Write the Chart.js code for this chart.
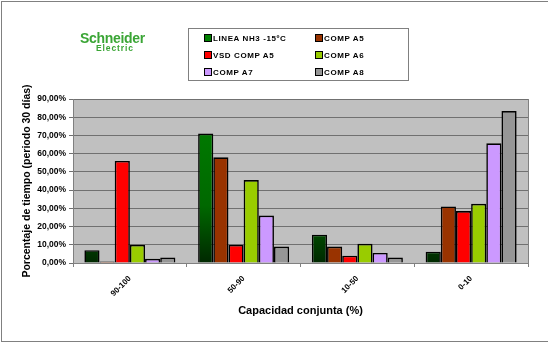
<!DOCTYPE html>
<html>
<head>
<meta charset="utf-8">
<script src="https://cdn.jsdelivr.net/npm/chart.js@4/dist/chart.umd.min.js"></script>
<style>
  body { margin: 0; background: #fff; }
  #wrap { position: relative; width: 548px; height: 344px; overflow: hidden; font-family: Arial, "Liberation Sans", sans-serif; }
  #frame { position: absolute; left: 1px; top: 1px; width: 600px; height: 339px; border: 1px solid #808080; border-right: none; pointer-events: none; }
  #logo { position: absolute; left: 80px; top: 30px; color: #3aa535; }
  #logo .big { font-weight: bold; font-size: 14px; letter-spacing: -0.3px; }
  #logo .small { font-weight: bold; font-size: 8.5px; margin-left: 16px; margin-top: -3px; letter-spacing: 0.9px; }
  #legend { position: absolute; left: 188px; top: 28px; width: 221px; height: 53px; border: 1px solid #808080; box-sizing: border-box; }
  .item { position: absolute; font-size: 8px; font-weight: bold; letter-spacing: 0.6px; line-height: 10px; white-space: nowrap; }
  .sw { display: inline-block; width: 6px; height: 6px; border: 1px solid #000; vertical-align: -1px; margin-right: 1px; }
</style>
</head>
<body>
<div id="wrap">
  <canvas id="chart" width="548" height="344"></canvas>
  <div id="logo"><div class="big">Schneider</div><div class="small">Electric</div></div>
  <div id="legend"></div>
  <div id="frame"></div>
</div>
<script>
const categories = ['90-100', '50-90', '10-50', '0-10'];
const seriesNames = ['LINEA NH3 -15ºC', 'COMP A5', 'VSD COMP A5', 'COMP A6', 'COMP A7', 'COMP A8'];
const seriesColors = ['#008000', '#993300', '#FF0000', '#99CC00', '#CC99FF', '#969696'];

const lineaNH3 = [7.0, 71.0, 15.5, 6.2];
const compA5 = [0.8, 58.0, 9.0, 31.0];
const vsdCompA5 = [56.0, 10.0, 4.0, 28.5];
const compA6 = [10.0, 45.5, 10.5, 32.5];
const compA7 = [2.3, 26.0, 5.5, 65.7];
const compA8 = [3.0, 9.0, 3.0, 83.4];
const seriesValues = [lineaNH3, compA5, vsdCompA5, compA6, compA7, compA8];

// legend in two columns, like the original
const legendEl = document.getElementById('legend');
seriesNames.forEach((name, i) => {
  const col = i % 2, row = Math.floor(i / 2);
  const d = document.createElement('div');
  d.className = 'item';
  d.style.left = (col === 0 ? 15 : 126) + 'px';
  d.style.top = (5 + row * 17) + 'px';
  d.innerHTML = '<span class="sw" style="background:' + seriesColors[i] + '"></span>' + name;
  legendEl.appendChild(d);
});

function greenGradient(ctx) {
  const area = ctx.chart.chartArea;
  if (!area) return seriesColors[0];
  const g = ctx.chart.ctx.createLinearGradient(0, area.bottom, 0, area.top);
  g.addColorStop(0, '#002800');
  g.addColorStop(0.35, '#006800');
  g.addColorStop(1, '#008000');
  return g;
}

const plotBg = {
  id: 'plotBg',
  beforeDraw(chart) {
    const { ctx, chartArea: a } = chart;
    ctx.save();
    ctx.fillStyle = '#C0C0C0';
    ctx.fillRect(a.left, a.top, a.right - a.left, a.bottom - a.top);
    ctx.strokeStyle = '#808080';
    ctx.lineWidth = 1;
    ctx.strokeRect(a.left + 0.5, a.top + 0.5, a.right - a.left, a.bottom - a.top);
    ctx.restore();
  }
};

const datasets = seriesNames.map((name, i) => ({
  label: name,
  data: seriesValues[i],
  backgroundColor: i === 0 ? greenGradient : seriesColors[i],
  borderColor: '#000',
  borderWidth: 1.6,
  borderSkipped: 'bottom',
  categoryPercentage: 0.8,
  barPercentage: 1.0,
}));

new Chart(document.getElementById('chart'), {
  type: 'bar',
  data: { labels: categories, datasets },
  plugins: [plotBg],
  options: {
    responsive: false,
    animation: false,
    layout: { padding: { top: 99, right: 20, bottom: 22, left: 17 } },
    plugins: { legend: { display: false }, tooltip: { enabled: false } },
    scales: {
      x: {
        afterFit(s) { s.height = 59; },
        grid: { offset: true, drawOnChartArea: false, color: '#808080', tickLength: 4 },
        border: { color: '#808080' },
        ticks: {
          minRotation: 45, maxRotation: 45, padding: 7,
          color: '#000', font: { family: 'Arial', size: 8, weight: 'bold' }
        },
        title: {
          display: true, text: 'Capacidad conjunta (%)', color: '#000',
          font: { family: 'Arial', size: 11, weight: 'bold' }, padding: { top: 2, bottom: 4 }
        }
      },
      y: {
        min: 0, max: 90,
        afterFit(s) { s.width = 56; },
        grid: { color: '#707070', tickLength: 4, drawTicks: true },
        border: { color: '#808080' },
        ticks: {
          stepSize: 10, padding: 3, color: '#000',
          font: { family: 'Arial', size: 8.5, weight: 'bold' },
          callback: v => v.toFixed(2).replace('.', ',') + '%'
        },
        title: {
          display: true, text: 'Porcentaje de tiempo (periodo 30 días)', color: '#000',
          font: { family: 'Arial', size: 10.5, weight: 'bold' }, padding: { top: 4, bottom: 2 }
        }
      }
    }
  }
});
</script>
</body>
</html>
